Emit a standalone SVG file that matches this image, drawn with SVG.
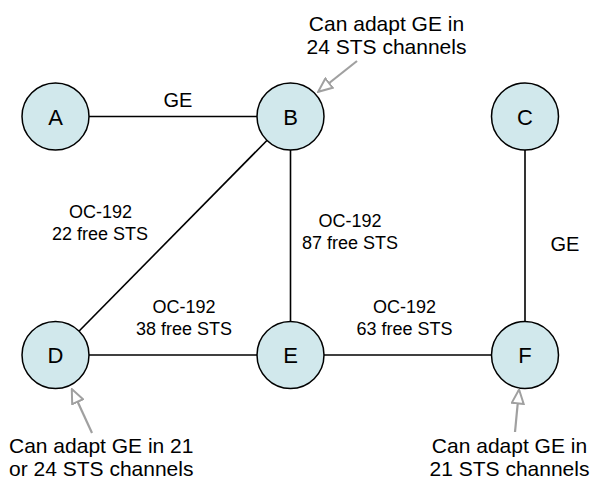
<svg xmlns="http://www.w3.org/2000/svg" width="595" height="479" viewBox="0 0 595 479">
<style>
.node{fill:#d1e8ec;stroke:#000;stroke-width:1.5}
.nl{font-family:"Liberation Sans",Arial,sans-serif;font-size:22px;text-anchor:middle;fill:#000}
.edge{stroke:#000;stroke-width:1.6;fill:none}
.el{font-family:"Liberation Sans",Arial,sans-serif;font-size:18px;text-anchor:middle;fill:#000}
.ge{font-size:20px}
.an{font-family:"Liberation Sans",Arial,sans-serif;font-size:21px;fill:#000}
.ar{stroke:#a0a0a0;stroke-width:2.2;fill:none}
</style>
<defs>
<marker id="oh" viewBox="0 0 16 14" refX="14.5" refY="7" markerWidth="16" markerHeight="14" markerUnits="userSpaceOnUse" orient="auto">
<path d="M1,1 L15,7 L1,13 Z" fill="#fff" stroke="#a0a0a0" stroke-width="2"/>
</marker>
</defs>
<rect width="595" height="479" fill="#fff"/>
<g id="connectors">
<line class="edge" x1="55.5" y1="116.5" x2="290.5" y2="116.5"/>
<line class="edge" x1="290.5" y1="116.5" x2="55.5" y2="355"/>
<line class="edge" x1="290.5" y1="116.5" x2="290.5" y2="355"/>
<line class="edge" x1="525" y1="116.5" x2="525" y2="355"/>
<line class="edge" x1="55.5" y1="355" x2="290.5" y2="355"/>
<line class="edge" x1="290.5" y1="355" x2="525" y2="355"/>
<text class="el ge" x="178" y="107">GE</text>
<text class="el" x="100.5" y="218">OC-192</text>
<text class="el" x="100" y="240">22 free STS</text>
<text class="el" x="350" y="227">OC-192</text>
<text class="el" x="350" y="249">87 free STS</text>
<text class="el ge" x="565" y="251">GE</text>
<text class="el" x="184" y="313">OC-192</text>
<text class="el" x="184" y="335">38 free STS</text>
<text class="el" x="404.5" y="313">OC-192</text>
<text class="el" x="404.5" y="335">63 free STS</text>
</g>
<g id="A"><circle class="node" cx="55.5" cy="116.5" r="33.5"/><text class="nl" x="55.5" y="124.5">A</text></g>
<g id="B"><circle class="node" cx="290.5" cy="116.5" r="33.5"/><text class="nl" x="290.5" y="124.5">B</text></g>
<g id="C"><circle class="node" cx="525" cy="116.5" r="33.5"/><text class="nl" x="525" y="124.5">C</text></g>
<g id="D"><circle class="node" cx="55.5" cy="355" r="33.5"/><text class="nl" x="55.5" y="363">D</text></g>
<g id="E"><circle class="node" cx="290.5" cy="355" r="33.5"/><text class="nl" x="290.5" y="363">E</text></g>
<g id="F"><circle class="node" cx="525" cy="355" r="33.5"/><text class="nl" x="525" y="363">F</text></g>
<g id="annotations">
<line class="ar" x1="357" y1="61" x2="318.5" y2="91.5" marker-end="url(#oh)"/>
<line class="ar" x1="92" y1="433" x2="72" y2="389.5" marker-end="url(#oh)"/>
<line class="ar" x1="515" y1="432" x2="519" y2="390" marker-end="url(#oh)"/>
<text class="an" x="386.5" y="31" text-anchor="middle">Can adapt GE in</text>
<text class="an" x="386.5" y="54" text-anchor="middle">24 STS channels</text>
<text class="an" x="9" y="453">Can adapt GE in 21</text>
<text class="an" x="9" y="476">or 24 STS channels</text>
<text class="an" x="509.5" y="453" text-anchor="middle">Can adapt GE in</text>
<text class="an" x="509.5" y="476" text-anchor="middle">21 STS channels</text>
</g>
</svg>
